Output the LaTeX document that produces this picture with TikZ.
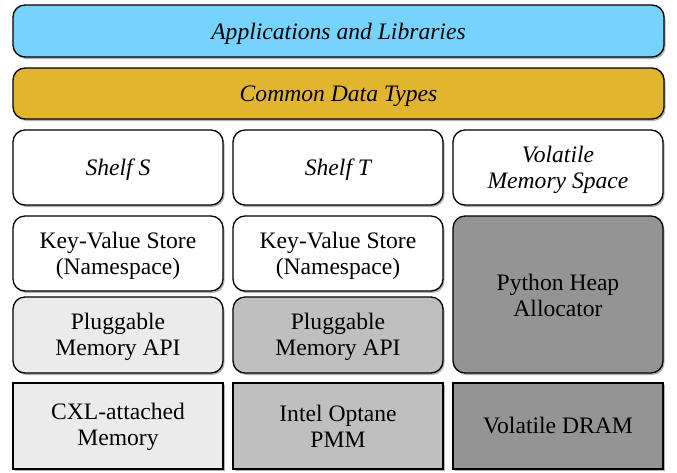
\documentclass[tikz,border=0pt]{standalone}
\usepackage{fontspec}
\setmainfont{Liberation Serif}
\usetikzlibrary{shadows}
\definecolor{appblue}{HTML}{75D3FD}
\definecolor{typegold}{HTML}{E1B52E}
\definecolor{lightg}{HTML}{EBEBEB}
\definecolor{midg}{HTML}{BFBFBF}
\definecolor{darkg}{HTML}{949494}
\tikzset{
  blk/.style={draw=black, line width=1.3pt, inner sep=0pt,
    drop shadow={shadow xshift=1.5pt, shadow yshift=-2pt, fill=black, opacity=0.3}},
  rblk/.style={blk, rounded corners=12pt},
  sblk/.style={blk, rounded corners=0pt},
  lblbase/.style={align=center, font=\fontsize{23.6}{26}\selectfont, inner sep=0pt},
  lbl/.style={lblbase, yshift=-2.5pt},
  lblmid/.style={lblbase, yshift=-1.5pt},
  lblup/.style={lblbase, yshift=-0.5pt},
  lbltop/.style={lblbase, yshift=0.5pt},
}
\begin{document}
\begin{tikzpicture}[x=1pt,y=-1pt]
\useasboundingbox (0,0) rectangle (677,472);
% row 1 and 2
\node[rblk, fill=appblue, minimum width=651pt, minimum height=52pt, label={[lbl]center:\itshape Applications and Libraries}] (app) at (338.5,31) {};
\node[rblk, fill=typegold, minimum width=651pt, minimum height=51pt, label={[lbl]center:\itshape Common Data Types}] (cdt) at (338.5,93.5) {};
% row 3
\node[rblk, fill=white, minimum width=210pt, minimum height=75pt, label={[lbl]center:\itshape Shelf S}] (shs) at (118,167.5) {};
\node[rblk, fill=white, minimum width=210pt, minimum height=75pt, label={[lbl]center:\itshape Shelf T}] (sht) at (338,167.5) {};
\node[rblk, fill=white, minimum width=210pt, minimum height=75pt, label={[lbl, font=\fontsize{23.6}{26}\selectfont\itshape]center:Volatile\\Memory Space}] (vms) at (558,167.5) {};
% row 4
\node[rblk, fill=white, minimum width=210pt, minimum height=75pt, label={[lbl]center:Key-Value Store\\(Namespace)}] (kv1) at (118,253.5) {};
\node[rblk, fill=white, minimum width=210pt, minimum height=75pt, label={[lbl]center:Key-Value Store\\(Namespace)}] (kv2) at (338,253.5) {};
\node[rblk, fill=darkg, minimum width=210pt, minimum height=157pt, label={[lblup]center:Python Heap\\Allocator}] (pha) at (558,294.5) {};
% row 5
\node[rblk, fill=lightg, minimum width=210pt, minimum height=76pt, label={[lblmid]center:Pluggable\\Memory API}] (pm1) at (118,335) {};
\node[rblk, fill=midg, minimum width=210pt, minimum height=76pt, label={[lblmid]center:Pluggable\\Memory API}] (pm2) at (338,335) {};
% row 6
\node[sblk, fill=lightg, minimum width=210pt, minimum height=86pt, label={[lblup]center:CXL-attached\\Memory}] (cxl) at (118,426) {};
\node[sblk, fill=midg, minimum width=210pt, minimum height=86pt, label={[lblup]center:Intel Optane\\PMM}] (opt) at (338,426) {};
\node[sblk, fill=darkg, minimum width=210pt, minimum height=86pt, label={[lbltop]center:Volatile DRAM}] (dram) at (558,426) {};
\end{tikzpicture}
\end{document}
